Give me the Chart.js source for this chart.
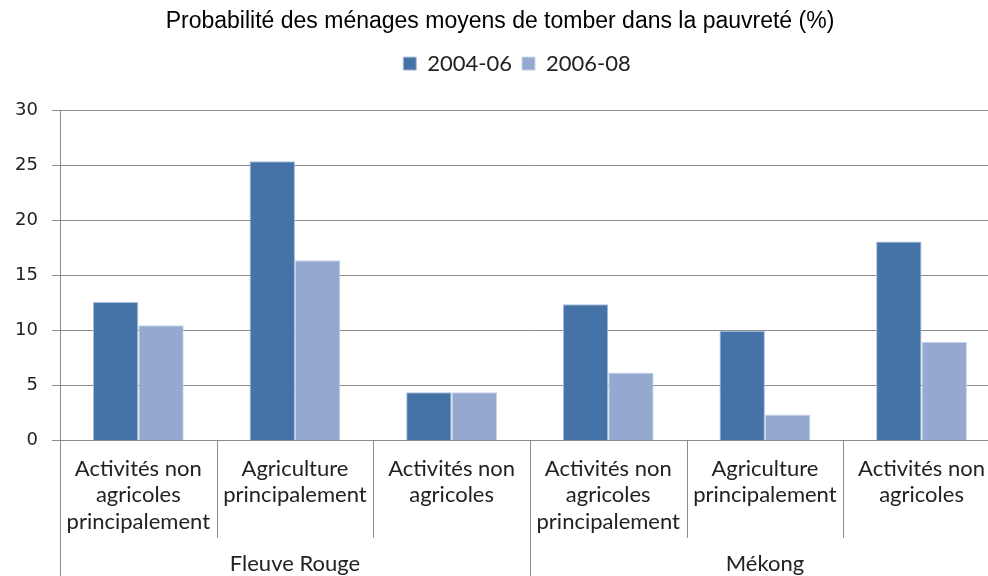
<!DOCTYPE html>
<html>
<head>
<meta charset="utf-8">
<script src="https://cdn.jsdelivr.net/npm/chart.js@4"></script>
<style>
  html, body { margin: 0; padding: 0; background: #fff; overflow: hidden; }
  #wrap { width: 1000px; height: 576px; }
</style>
</head>
<body>
<div id="wrap"><canvas id="povChart"></canvas></div>
<script>
// Data
const categories = [
    ['Activités non', 'agricoles', 'principalement'],
    ['Agriculture', 'principalement'],
    ['Activités non', 'agricoles'],
    ['Activités non', 'agricoles', 'principalement'],
    ['Agriculture', 'principalement'],
    ['Activités non', 'agricoles']
];
const groups = ['Fleuve Rouge', 'Mékong'];
const groupSizes = [3, 3];
const series2004 = [12.6, 25.4, 4.4, 12.4, 10.0, 18.1];
const series2006 = [10.5, 16.4, 4.4, 6.2, 2.4, 9.0];
const yTicks = [0, 5, 10, 15, 20, 25, 30];

// Extra room under the legend, and nudge it over the plot
const legendSpace = {
    id: 'legendSpace',
    beforeInit(chart) {
        const legend = chart.legend;
        const fit = legend.fit;
        legend.fit = function() {
            fit.call(this);
            this.height += 24;
        };
        const draw = legend.draw;
        legend.draw = function() {
            this.ctx.save();
            this.ctx.translate(17, -2);
            draw.call(this);
            this.ctx.restore();
        };
    }
};

// Category dividers and group labels under the x axis
const groupAxis = {
    id: 'groupAxis',
    afterDraw(chart) {
        const ctx = chart.ctx;
        const area = chart.chartArea;
        const n = categories.length;
        const catW = (area.right - area.left) / n;
        const groupEdges = [0];
        groupSizes.reduce((acc, s) => { groupEdges.push(acc + s); return acc + s; }, 0);

        ctx.save();
        ctx.strokeStyle = '#8c8c8c';
        ctx.lineWidth = 1;
        for (let i = 0; i <= n; i++) {
            const x = Math.round(area.left + i * catW) + 0.5;
            const isGroup = groupEdges.includes(i);
            ctx.beginPath();
            ctx.moveTo(x, area.bottom);
            ctx.lineTo(x, isGroup ? chart.height : area.bottom + 97);
            ctx.stroke();
        }
        ctx.fillStyle = '#222';
        ctx.font = '22px Lato';
        ctx.textAlign = 'center';
        ctx.textBaseline = 'middle';
        groups.forEach((g, gi) => {
            const start = groupEdges[gi], end = groupEdges[gi + 1];
            const cx = area.left + (start + end) / 2 * catW;
            ctx.fillText(g, cx, area.bottom + 123);
        });
        ctx.restore();
    }
};

const ctx = document.getElementById('povChart').getContext('2d');
const povChart = new Chart(ctx, {
    type: 'bar',
    data: {
        labels: categories,
        datasets: [{
            label: '2004-06',
            data: series2004,
            backgroundColor: '#4573a7',
            borderColor: '#a9bedb',
            borderWidth: 1
        }, {
            label: '2006-08',
            data: series2006,
            backgroundColor: '#95a9d0',
            borderColor: '#c9d5ea',
            borderWidth: 1
        }]
    },
    options: {
        responsive: true,
        maintainAspectRatio: false,
        animation: false,
        layout: { padding: { left: 0, right: 0, top: 0, bottom: 26 } },
        datasets: { bar: { categoryPercentage: 0.58, barPercentage: 1.0 } },
        plugins: {
            title: {
                display: true,
                text: 'Probabilité des ménages moyens de tomber dans la pauvreté (%)',
                color: '#000',
                font: { family: 'Liberation Sans', size: 23, weight: 'normal' },
                padding: { top: 8, bottom: 9 }
            },
            legend: {
                labels: {
                    color: '#222',
                    font: { family: 'Lato', size: 22 },
                    boxWidth: 13,
                    boxHeight: 13,
                    padding: 10
                }
            },
            tooltip: { enabled: false }
        },
        scales: {
            x: {
                grid: { display: false, tickLength: 0 },
                border: { color: '#8c8c8c' },
                ticks: {
                    color: '#222',
                    font: { family: 'Lato', size: 22, lineHeight: 1.2 },
                    padding: 15,
                    maxRotation: 0,
                    autoSkip: false
                }
            },
            y: {
                min: 0,
                max: 30,
                afterFit(scale) { scale.width = 60; },
                afterBuildTicks(scale) { scale.ticks = yTicks.map(v => ({ value: v })); },
                grid: { color: '#8c8c8c', tickLength: 8 },
                border: { color: '#8c8c8c' },
                ticks: {
                    color: '#222',
                    font: { family: 'DejaVu Sans', size: 18 },
                    padding: 14
                }
            }
        }
    },
    plugins: [legendSpace, groupAxis]
});
</script>
</body>
</html>
